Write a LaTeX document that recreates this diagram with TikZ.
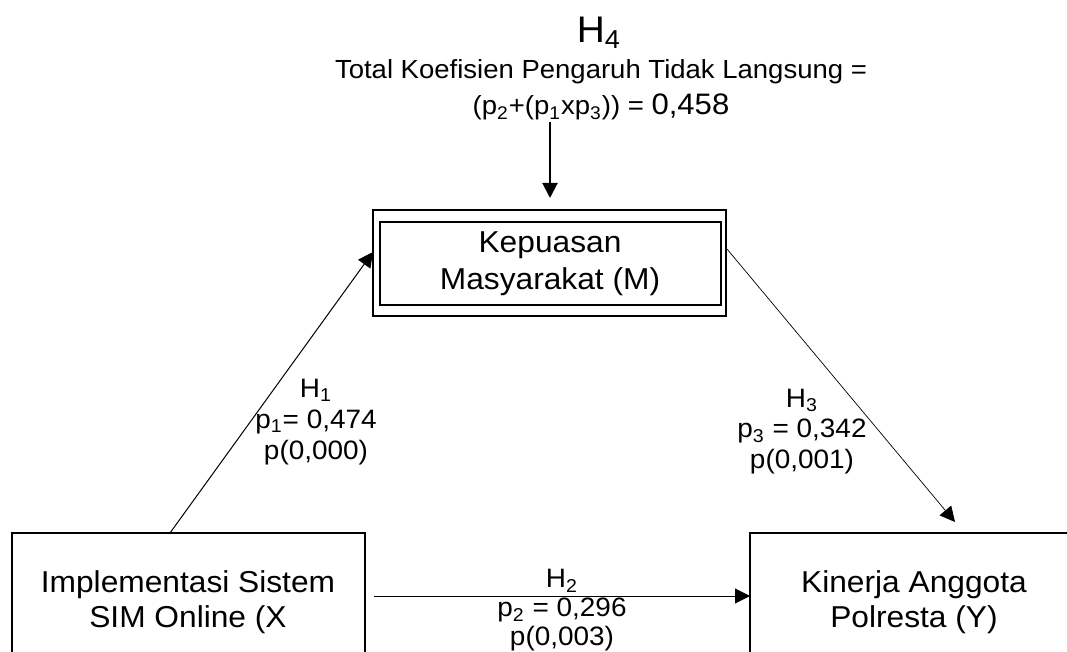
\documentclass[tikz,border=0pt]{standalone}
\usepackage{fontspec}
\setmainfont[FakeStretch=1.05]{Liberation Sans}
\usetikzlibrary{arrows.meta,calc}
\begin{document}
\begin{tikzpicture}[x=0.5pt,y=-0.5pt,
  box/.style={draw, line width=1pt, inner sep=0pt, outer sep=0pt},
  boxtext/.style={align=center, anchor=base, inner sep=0pt, font=\fontsize{15.1}{17.5}\selectfont},
  lbl/.style={align=center, anchor=base, inner sep=0pt, font=\fontsize{13.3}{15.5}\selectfont},
  tip/.style={-{Triangle[length=7.5pt,width=7.5pt]}},
  conn/.style={tip, line width=0.5pt},
  connthin/.style={tip, line width=0.35pt},
  connthick/.style={tip, line width=1pt}]
\useasboundingbox (0,0) rectangle (1067,652);
\clip (0,0) rectangle (1067,652);
% boxes
\node[box, minimum width=176.5pt, minimum height=63pt] (X) at (188.5,596) {};
\node[box, minimum width=175pt, minimum height=63pt] (Y) at (925,596) {};
\node[box, line width=1.3pt, minimum width=176.5pt, minimum height=53pt] (M) at (549.5,263) {};
\node[box, line width=0.8pt, minimum width=170.5pt, minimum height=41.5pt] (Mi) at (550.5,263.5) {};
% box texts (anchor base = last line)
\node[boxtext] (Xt) at (188,627) {Implementasi Sistem\\SIM Online (X};
\node[boxtext] (Yt) at (914,627) {Kinerja Anggota\\Polresta (Y)};
\node[boxtext, font=\fontsize{15.1}{18.5}\selectfont] (Mt) at (550,290) {Kepuasan\\Masyarakat (M)};
% top text
\node[anchor=base, inner sep=0pt, font=\fontsize{18.5}{20}\selectfont] (H4) at (599,43) {H\textsubscript{4}};
\node[align=center, anchor=base, inner sep=0pt, font=\fontsize{13.1}{18}\selectfont] (title) at (601,115)
  {Total Koefisien Pengaruh Tidak Langsung =\\(p\textsubscript{2}+(p\textsubscript{1}xp\textsubscript{3})) = {\fontsize{14.8}{18}\selectfont 0,458}};
% labels
\node[lbl] (L1) at (316,459) {H\textsubscript{1}\\p\textsubscript{1}= 0,474\\p(0,000)};
\node[lbl] (L3) at (802,469) {H\textsubscript{3}\\p\textsubscript{3} = 0,342\\p(0,001)};
\node[lbl, font=\fontsize{13.3}{14.5}\selectfont] (L2) at (562,646) {H\textsubscript{2}\\p\textsubscript{2} = 0,296\\p(0,003)};
% connectors
\coordinate (topstart) at (550,122);
\draw[connthick] (topstart) -- ($(M.north)+(0.5,-12)$);
\draw[conn] ($(X.north west)+(158,0)$) -- ($(M.west)+(0,-11)$);
\draw[connthin] ($(M.east)+(1,-14)$) -- ($(Y.north west)+(205,-11)$);
\draw[conn] ($(X.east)+(9,0)$) -- (Y.west);
\end{tikzpicture}
\end{document}
